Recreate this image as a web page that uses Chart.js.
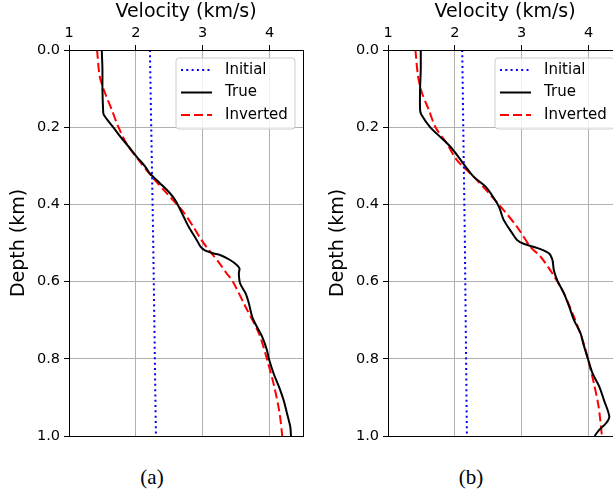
<!DOCTYPE html>
<html>
<head>
<meta charset="utf-8">
<script src="https://cdn.jsdelivr.net/npm/chart.js@4.4.1/dist/chart.umd.min.js"></script>
<style>
  html, body { margin: 0; padding: 0; background: #fff; overflow: hidden; }
  #wrap { position: relative; width: 613px; height: 495px; overflow: hidden; }
  canvas { position: absolute; top: 0; }
  .cap { position: absolute; top: 465px; font-family: 'Liberation Serif', serif; font-size: 21px; transform: translateX(-50%); color: #000; }
</style>
</head>
<body>
<div id="wrap">
  <canvas id="chartA" width="310" height="445" style="left:0"></canvas>
  <canvas id="chartB" width="310" height="445" style="left:319px"></canvas>
  <div class="cap" style="left:152px">(a)</div>
  <div class="cap" style="left:471px">(b)</div>
</div>
<script>
// tick labels
const xTicks = [1, 2, 3, 4];
const yTicks = [0, 0.2, 0.4, 0.6, 0.8, 1.0];

// panel (a)
const depthInitA = [0, 0.5, 1.0];
const velInitA = [2.21, 2.26, 2.30];
const depthTrueA = [0, 0.05, 0.1, 0.155, 0.168, 0.2, 0.225, 0.25, 0.276, 0.302, 0.32, 0.345, 0.371, 0.389, 0.423, 0.458, 0.492, 0.51, 0.52, 0.527, 0.531, 0.544, 0.557, 0.566, 0.579, 0.605, 0.63, 0.656, 0.691, 0.717, 0.743, 0.777, 0.8, 0.838, 0.872, 0.907, 0.941, 0.976, 1.0];
const velTrueA = [1.49, 1.50, 1.50, 1.51, 1.52, 1.66, 1.77, 1.89, 2.01, 2.14, 2.21, 2.36, 2.51, 2.59, 2.69, 2.79, 2.91, 2.97, 3.04, 3.16, 3.26, 3.41, 3.51, 3.55, 3.54, 3.56, 3.64, 3.69, 3.74, 3.81, 3.89, 3.96, 3.99, 4.06, 4.14, 4.21, 4.26, 4.31, 4.32];
const depthInvA = [0, 0.069, 0.112, 0.155, 0.2, 0.242, 0.285, 0.328, 0.371, 0.415, 0.458, 0.492, 0.52, 0.55, 0.579, 0.6, 0.665, 0.734, 0.8, 0.872, 0.941, 1.0];
const velInvA = [1.42, 1.46, 1.54, 1.64, 1.74, 1.86, 2.04, 2.24, 2.46, 2.69, 2.86, 2.98, 3.10, 3.24, 3.36, 3.45, 3.64, 3.84, 3.96, 4.07, 4.15, 4.19];

// panel (b)
const depthInitB = [0, 0.5, 1.0];
const velInitB = [2.11, 2.15, 2.18];
const depthTrueB = [0, 0.05, 0.1, 0.155, 0.168, 0.2, 0.225, 0.25, 0.276, 0.302, 0.328, 0.354, 0.38, 0.406, 0.44, 0.475, 0.492, 0.502, 0.514, 0.527, 0.544, 0.57, 0.596, 0.63, 0.665, 0.699, 0.734, 0.76, 0.8, 0.838, 0.872, 0.907, 0.95, 0.967, 0.984, 1.0];
const velTrueB = [1.49, 1.49, 1.48, 1.48, 1.50, 1.63, 1.78, 1.93, 2.05, 2.16, 2.28, 2.46, 2.57, 2.66, 2.73, 2.86, 2.93, 3.03, 3.25, 3.41, 3.46, 3.48, 3.53, 3.63, 3.71, 3.78, 3.88, 3.92, 3.99, 4.06, 4.16, 4.23, 4.31, 4.26, 4.16, 4.09];
const depthInvB = [0, 0.069, 0.112, 0.155, 0.2, 0.242, 0.285, 0.328, 0.371, 0.415, 0.458, 0.51, 0.535, 0.579, 0.63, 0.691, 0.751, 0.8, 0.864, 0.924, 1.0];
const velInvB = [1.41, 1.45, 1.51, 1.61, 1.71, 1.88, 2.03, 2.28, 2.51, 2.73, 2.93, 3.13, 3.28, 3.46, 3.63, 3.78, 3.91, 3.99, 4.08, 4.15, 4.20];

const pts = (vel, depth) => vel.map((v, i) => ({ x: v, y: depth[i] }));
const FONT = 'DejaVu Sans';

// black frame + matplotlib-style legend inside the plot
const framePlugin = {
  id: 'frame',
  afterDraw(chart) {
    const ctx = chart.ctx, ca = chart.chartArea;
    ctx.save();
    ctx.strokeStyle = '#000';
    ctx.lineWidth = 1;
    ctx.strokeRect(Math.round(ca.left) + 0.5, Math.round(ca.top) + 0.5,
      Math.round(ca.right - ca.left), Math.round(ca.bottom - ca.top));

    const x0 = ca.left + 107, y0 = ca.top + 8, w = 119, h = 71, r = 3;
    ctx.beginPath();
    ctx.moveTo(x0 + r, y0);
    ctx.arcTo(x0 + w, y0, x0 + w, y0 + h, r);
    ctx.arcTo(x0 + w, y0 + h, x0, y0 + h, r);
    ctx.arcTo(x0, y0 + h, x0, y0, r);
    ctx.arcTo(x0, y0, x0 + w, y0, r);
    ctx.closePath();
    ctx.fillStyle = 'rgba(255,255,255,0.8)';
    ctx.fill();
    ctx.strokeStyle = '#cccccc';
    ctx.stroke();

    chart.data.datasets.forEach((ds, i) => {
      const y = ca.top + 20 + i * 22.5;
      ctx.beginPath();
      ctx.setLineDash(ds.borderDash || []);
      ctx.strokeStyle = ds.borderColor;
      ctx.lineWidth = ds.borderWidth;
      ctx.moveTo(x0 + 5, y);
      ctx.lineTo(x0 + 36, y);
      ctx.stroke();
      ctx.setLineDash([]);
      ctx.fillStyle = '#000';
      ctx.font = '15px "' + FONT + '"';
      ctx.textBaseline = 'middle';
      ctx.textAlign = 'left';
      ctx.fillText(ds.label, x0 + 49, y);
    });
    ctx.restore();
  }
};

function makeChart(id, init, truth, inv) {
  new Chart(document.getElementById(id), {
    type: 'scatter',
    data: {
      datasets: [
        { label: 'Initial', data: init, showLine: true, borderColor: '#0000ff', borderWidth: 2, borderDash: [2, 3.3], pointRadius: 0, tension: 0 },
        { label: 'True', data: truth, showLine: true, borderColor: '#000000', borderWidth: 2, pointRadius: 0, tension: 0.3 },
        { label: 'Inverted', data: inv, showLine: true, borderColor: '#ff0000', borderWidth: 2, borderDash: [9, 4], pointRadius: 0, tension: 0.3 }
      ]
    },
    options: {
      responsive: false,
      animation: false,
      layout: { padding: { left: 0, right: 7, top: 0, bottom: 9 } },
      plugins: { legend: { display: false }, tooltip: { enabled: false } },
      scales: {
        x: {
          type: 'linear', position: 'top', min: 1, max: 4.5,
          afterBuildTicks: s => { s.ticks = xTicks.map(v => ({ value: v })); },
          afterFit: s => { s.height = 50; s.paddingLeft = 0; s.paddingRight = 0; },
          ticks: { color: '#000', font: { family: FONT, size: 14.5 }, padding: 3, callback: v => String(v) },
          grid: { color: '#b0b0b0', lineWidth: 1, tickColor: '#000', tickLength: 5 },
          border: { display: false },
          title: { display: true, text: 'Velocity (km/s)', color: '#000', font: { family: FONT, size: 19 }, padding: { top: 1, bottom: 0 } }
        },
        y: {
          type: 'linear', position: 'left', reverse: true, min: 0, max: 1,
          afterBuildTicks: s => { s.ticks = yTicks.map(v => ({ value: v })); },
          afterFit: s => { s.width = 69; s.paddingTop = 0; s.paddingBottom = 0; },
          ticks: { color: '#000', font: { family: FONT, size: 14.5 }, padding: 4, callback: v => v.toFixed(1) },
          grid: { color: '#b0b0b0', lineWidth: 1, tickColor: '#000', tickLength: 5 },
          border: { display: false },
          title: { display: true, text: 'Depth (km)', color: '#000', font: { family: FONT, size: 19 }, padding: { top: 8, bottom: 0 } }
        }
      }
    },
    plugins: [framePlugin]
  });
}

makeChart('chartA', pts(velInitA, depthInitA), pts(velTrueA, depthTrueA), pts(velInvA, depthInvA));
makeChart('chartB', pts(velInitB, depthInitB), pts(velTrueB, depthTrueB), pts(velInvB, depthInvB));
</script>
</body>
</html>
